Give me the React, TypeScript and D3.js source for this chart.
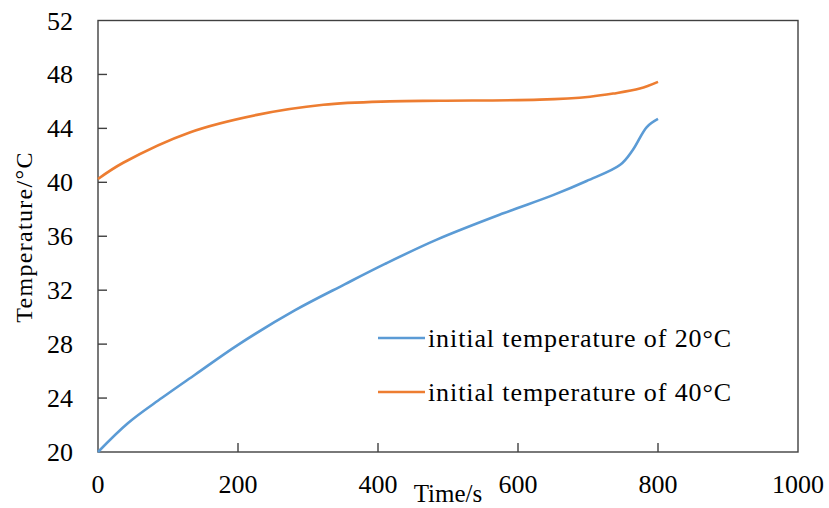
import React from "react";
import * as d3 from "d3";

const blueTime = [0, 43, 91, 139, 200, 281, 353, 410, 484, 579, 650, 698, 746, 764, 784, 800];
const blueTemp = [20, 22.15, 24.0, 25.75, 27.95, 30.5, 32.45, 33.95, 35.75, 37.7, 39.05, 40.1, 41.3, 42.4, 44.1, 44.7];
const orangeTime = [0, 36, 131, 227, 322, 417, 489, 631, 703, 736, 774, 800];
const orangeTemp = [40.25, 41.45, 43.7, 45.0, 45.75, 46.0, 46.05, 46.13, 46.35, 46.58, 46.95, 47.45];
const xTicks = [0, 200, 400, 600, 800, 1000];
const yTicks = [20, 24, 28, 32, 36, 40, 44, 48, 52];
const seriesNames = ["initial temperature of 20°C", "initial temperature of 40°C"];
const seriesColors = ["#5B9BD5", "#ED7D31"];

export default function App() {
  const W = 829, H = 508;
  const left = 98, right = 798, top = 20.5, bottom = 452;
  const x = d3.scaleLinear().domain([0, 1000]).range([left, right]);
  const y = d3.scaleLinear().domain([20, 52]).range([bottom, top]);
  const line = d3.line<[number, number]>().x(d => x(d[0])).y(d => y(d[1])).curve(d3.curveCatmullRom.alpha(0.5));
  const blue = line(blueTime.map((t, i) => [t, blueTemp[i]] as [number, number])) || "";
  const orange = line(orangeTime.map((t, i) => [t, orangeTemp[i]] as [number, number])) || "";
  const font = "'Liberation Serif', 'Times New Roman', serif";
  const axisColor = "#404040";
  return (
    <svg width={W} height={H} style={{ position: "absolute", left: 0, top: 0, background: "#fff" }} fontFamily={font}>
      <rect x={left} y={top} width={right - left} height={bottom - top} fill="none" stroke={axisColor} strokeWidth={1.4} />
      {yTicks.map(t => (
        <g key={"y" + t}>
          {t !== 20 && t !== 52 && <line x1={left} x2={left + 9} y1={y(t)} y2={y(t)} stroke={axisColor} strokeWidth={1.4} />}
          <text x={73} y={y(t) + 9} textAnchor="end" fontSize={26} fill="#000">{t}</text>
        </g>
      ))}
      {xTicks.map(t => (
        <g key={"x" + t}>
          {t !== 0 && t !== 1000 && <line x1={x(t)} x2={x(t)} y1={bottom} y2={bottom - 9} stroke={axisColor} strokeWidth={1.4} />}
          <text x={x(t)} y={493} textAnchor="middle" fontSize={26} fill="#000">{t}</text>
        </g>
      ))}
      <path d={blue} fill="none" stroke={seriesColors[0]} strokeWidth={2.6} />
      <path d={orange} fill="none" stroke={seriesColors[1]} strokeWidth={2.6} />
      {seriesNames.map((n, i) => (
        <g key={n}>
          <line x1={378} x2={425} y1={338 + i * 54} y2={338 + i * 54} stroke={seriesColors[i]} strokeWidth={2.6} />
          <text x={428} y={347 + i * 54} fontSize={26} letterSpacing={0.9} fill="#000">{n}</text>
        </g>
      ))}
      <text transform="translate(32,237) rotate(-90)" textAnchor="middle" fontSize={24} letterSpacing={1.3} fill="#000">Temperature/°C</text>
      <text x={448} y={502} textAnchor="middle" fontSize={25} fill="#000">Time/s</text>
    </svg>
  );
}
